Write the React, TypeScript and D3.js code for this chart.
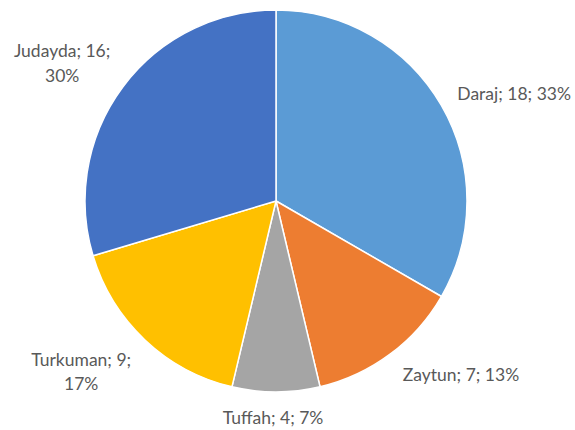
import React, { useEffect, useRef } from "react";
import * as d3 from "d3";

const categories = ["Daraj", "Zaytun", "Tuffah", "Turkuman", "Judayda"];
const values = [18, 7, 4, 9, 16];
const percents = ["33%", "13%", "7%", "17%", "30%"];
const colors = ["#5B9BD5", "#ED7D31", "#A5A5A5", "#FFC000", "#4472C4"];
// where Excel wraps the label text ("name; value;" / "pct")
const wrapAfterValue = [false, false, false, true, true];

// layout tweaks for Excel's best-fit label placement
const labelNudge: [number, number][] = [
  [-4, -1],
  [-1, 2],
  [-3, 2],
  [2, 15],
  [6, -10],
];

const W = 575;
const H = 430;

export default function App() {
  const ref = useRef<SVGSVGElement | null>(null);

  useEffect(() => {
    const svg = d3.select(ref.current);
    svg.selectAll("*").remove();
    const cx = 276;
    const cy = 201;
    const r = 191;
    const labelR = 214;

    const data = categories.map((c, i) => ({ c, v: values[i], i }));
    const pie = d3.pie<any>().value((d) => d.v).sort(null).startAngle(0).endAngle(2 * Math.PI);
    const arcs = pie(data);
    const arc = d3.arc<any>().innerRadius(0).outerRadius(r);
    const labelArc = d3.arc<any>().innerRadius(labelR).outerRadius(labelR);

    const g = svg.append("g").attr("transform", `translate(${cx},${cy})`);
    g.selectAll("path")
      .data(arcs)
      .enter()
      .append("path")
      .attr("d", arc)
      .attr("fill", (d: any) => colors[d.data.i])
      .attr("stroke", "#fff")
      .attr("stroke-width", 1.5)
      .attr("stroke-linejoin", "round");

    const lineH = 24.5;
    arcs.forEach((a: any) => {
      const i = a.data.i;
      const [px, py] = labelArc.centroid(a);
      const lines = wrapAfterValue[i]
        ? [`${categories[i]}; ${values[i]};`, percents[i]]
        : [`${categories[i]}; ${values[i]}; ${percents[i]}`];
      const t = g
        .append("text")
        .attr("font-family", "Lato, 'Noto Sans', sans-serif")
        .attr("font-size", 17.5)
        .attr("fill", "#595959")
        .attr("text-anchor", "middle");
      lines.forEach((l, k) => {
        t.append("tspan").attr("x", 0).attr("y", k * lineH).text(l);
      });
      const node = t.node() as SVGTextElement;
      const bb = node.getBBox();
      const mid = (a.startAngle + a.endAngle) / 2;
      const sx = Math.sin(mid);
      let boxCx: number;
      if (sx > 0.2) boxCx = px + bb.width / 2;
      else if (sx < -0.2) boxCx = px - bb.width / 2;
      else boxCx = px;
      const dy = py - (bb.y + bb.height / 2);
      t.attr(
        "transform",
        `translate(${boxCx + labelNudge[i][0]},${dy + labelNudge[i][1]})`
      );
    });
  }, []);

  return (
    <svg
      ref={ref}
      width={W}
      height={H}
      style={{ position: "absolute", left: 0, top: 0, background: "#fff" }}
    />
  );
}
